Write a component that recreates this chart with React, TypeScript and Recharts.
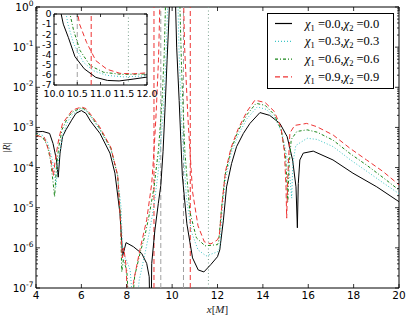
import React from "react";
import { LineChart, Line, XAxis, YAxis, ReferenceLine, ReferenceArea } from "recharts";

const W = 406;
const H = 318;
// main plot frame (px)
const PL = 36;
const PR = 399;
const PT = 7;
const PB = 288;
// inset placement on the page (px)
const IL = 54;
const IR = 147;
const IT = 14;
const IB = 85;
// inset frame in its own svg
const INSET_Y_W = 18;
const INSET_X_H = 17;
const IPAD_T = 8;
const IPAD_R = 14;
const iL = INSET_Y_W;
const iR = INSET_Y_W + (IR - IL);
const iT = IPAD_T;
const iB = IPAD_T + (IB - IT);

const xTicks = [4, 6, 8, 10, 12, 14, 16, 18, 20];
const decades = [-7, -6, -5, -4, -3, -2, -1, 0];
const insetXTicks = [10, 10.5, 11, 11.5, 12];
const insetYTicks = [-7, -6, -5, -4, -3, -2, -1, 0];

// log10 |R| against x[M]
const x00 = [4.0, 4.3, 4.6, 4.75, 4.9, 4.98, 5.06, 5.17, 5.32, 5.57, 5.76, 6.0, 6.2, 6.4, 6.82, 7.26, 7.48, 7.7, 7.82, 7.97, 8.29, 8.66, 8.88, 8.99, 9.03, 9.07, 9.1, 9.24, 9.39, 9.5, 9.6, 9.69, 9.78, 9.85, 9.9, 10.14, 10.2, 10.31, 10.45, 10.65, 10.9, 11.15, 11.4, 11.7, 12.0, 12.1, 12.26, 12.4, 12.62, 12.84, 13.14, 13.43, 13.87, 14.3, 14.75, 15.07, 15.31, 15.46, 15.52, 15.56, 15.63, 15.78, 16.22, 17.09, 17.97, 19.02, 20.0];
const r00 = [-3.11, -3.1, -3.15, -3.4, -3.8, -4.24, -3.64, -3.23, -3.06, -2.82, -2.65, -2.58, -2.65, -2.84, -3.15, -3.64, -4.14, -5.14, -6.2, -5.87, -5.97, -6.14, -6.39, -6.72, -8, -8, -6.39, -5.56, -4.9, -4.45, -3.6, -2.5, -1.3, -0.4, 0.3, 0.3, -1.0, -2.33, -4.2, -5.4, -6.25, -6.55, -6.6, -6.42, -6.22, -6.05, -5.31, -4.48, -3.9, -3.48, -3.15, -2.9, -2.63, -2.7, -2.9, -3.23, -3.81, -4.48, -5.5, -4.4, -3.81, -3.64, -3.59, -3.81, -4.14, -4.48, -4.85];

const x03 = [4.0, 4.3, 4.5, 4.7, 4.82, 4.88, 4.95, 5.05, 5.2, 5.4, 5.6, 6.0, 6.2, 6.4, 6.8, 7.3, 7.6, 7.75, 7.83, 7.95, 8.15, 8.35, 8.55, 8.8, 9.0, 9.2, 9.4, 9.6, 9.72, 9.82, 10.25, 10.3, 10.42, 10.63, 10.85, 11.14, 11.5, 12.0, 12.1, 12.2, 12.35, 12.6, 12.9, 13.3, 13.75, 14.15, 14.55, 14.85, 15.05, 15.2, 15.27, 15.32, 15.45, 15.95, 16.4, 17.1, 17.84, 18.6, 19.3, 20.0];
const r03 = [-3.15, -3.2, -3.35, -3.75, -4.15, -4.48, -4.0, -3.6, -3.15, -2.85, -2.68, -2.53, -2.58, -2.72, -3.05, -3.55, -4.2, -5.0, -6.3, -6.25, -6.55, -8, -6.8, -6.15, -5.6, -4.95, -4.05, -2.7, -1.4, 0.3, 0.3, -1.0, -2.9, -4.75, -5.6, -6.05, -6.2, -6.1, -6.0, -5.1, -4.3, -3.65, -3.2, -2.78, -2.49, -2.55, -2.78, -3.15, -3.7, -4.3, -4.76, -3.9, -3.45, -3.27, -3.3, -3.48, -3.8, -4.1, -4.38, -4.65];

const x06 = [4.0, 4.3, 4.5, 4.65, 4.75, 4.82, 4.9, 5.0, 5.15, 5.4, 5.6, 6.0, 6.2, 6.4, 6.8, 7.3, 7.6, 7.72, 7.78, 7.85, 8.0, 8.15, 8.35, 8.6, 8.8, 9.0, 9.2, 9.4, 9.55, 9.65, 9.72, 10.33, 10.42, 10.56, 10.78, 11.07, 11.45, 12.0, 12.05, 12.18, 12.33, 12.6, 12.9, 13.3, 13.7, 14.1, 14.5, 14.8, 15.0, 15.1, 15.15, 15.25, 15.5, 15.95, 16.4, 17.1, 17.84, 18.6, 19.3, 20.0];
const r06 = [-3.18, -3.25, -3.45, -3.85, -4.35, -4.73, -4.0, -3.5, -3.05, -2.75, -2.62, -2.51, -2.56, -2.7, -3.02, -3.52, -4.2, -5.2, -6.6, -6.3, -6.55, -8, -6.7, -6.1, -5.7, -5.15, -4.5, -3.55, -2.4, -1.2, 0.3, 0.3, -1.6, -3.6, -5.1, -5.75, -5.95, -5.92, -5.85, -5.0, -4.2, -3.55, -3.1, -2.68, -2.4, -2.45, -2.68, -3.05, -3.7, -4.85, -4.0, -3.3, -3.1, -3.06, -3.12, -3.32, -3.65, -3.95, -4.25, -4.56];

const x09 = [4.0, 4.37, 4.6, 4.73, 4.77, 4.85, 5.0, 5.17, 5.6, 6.0, 6.2, 6.4, 6.8, 7.3, 7.6, 7.72, 7.8, 7.87, 7.97, 8.08, 8.3, 8.58, 8.88, 9.1, 9.2, 9.3, 9.4, 9.47, 10.5, 10.55, 10.7, 10.9, 11.14, 11.42, 11.71, 12.0, 12.08, 12.2, 12.35, 12.6, 12.9, 13.3, 13.65, 14.1, 14.5, 14.8, 14.95, 15.02, 15.05, 15.1, 15.19, 15.4, 15.93, 16.37, 17.1, 17.84, 18.57, 19.3, 20.0];
const r09 = [-3.2, -3.25, -3.65, -4.06, -4.2, -3.8, -3.3, -2.9, -2.57, -2.49, -2.53, -2.67, -2.98, -3.5, -4.2, -5.3, -6.25, -6.0, -6.45, -8, -6.84, -6.05, -5.3, -4.4, -3.6, -2.6, -1.3, 0.3, 0.3, -1.0, -2.8, -4.6, -5.45, -5.85, -5.9, -5.8, -5.7, -4.9, -4.1, -3.5, -3.05, -2.6, -2.32, -2.38, -2.6, -3.0, -3.6, -4.5, -5.26, -4.2, -3.14, -2.95, -2.9, -2.98, -3.19, -3.52, -3.81, -4.1, -4.43];

const series = [
  { key: "s00", chi: "0.0", xs: x00, ys: r00, color: "#000000", dash: undefined },
  { key: "s03", chi: "0.3", xs: x03, ys: r03, color: "#3cc6c6", dash: "1 2" },
  { key: "s06", chi: "0.6", xs: x06, ys: r06, color: "#1a861a", dash: "3 2 1 2" },
  { key: "s09", chi: "0.9", xs: x09, ys: r09, color: "#ee3333", dash: "5 3" },
];

// vertical markers
const verticals = [
  { x: 9.2, color: "#ee3333", dash: "5 3" },
  { x: 9.5, color: "#a0a0a0", dash: "5 3" },
  { x: 10.5, color: "#a0a0a0", dash: "5 3" },
  { x: 10.8, color: "#ee3333", dash: "5 3" },
  { x: 11.6, color: "#7a9f8c", dash: "1 2.5" },
];

const points = (xs: number[], ys: number[]) =>
  xs.map((x, i) => ({ x, r: Math.pow(10, ys[i]), lr: ys[i] }));

const yMinor: number[] = [];
decades.slice(0, -1).forEach((d) => {
  for (let k = 2; k <= 9; k++) yMinor.push(k * Math.pow(10, d));
});
const yTicks = [...decades.map((d) => Math.pow(10, d)), ...yMinor];

const tickFont = { fontFamily: "DejaVu Sans", fill: "#000" };

const LogTick = (props: any) => {
  const y = props.y;
  const v = props.payload.value;
  const e = Math.round(Math.log10(v));
  const major = Math.abs(Math.log10(v) - e) < 1e-6;
  const len = major ? 4 : 2;
  return (
    <g>
      <line x1={PL} x2={PL + len} y1={y} y2={y} stroke="#000" strokeWidth={0.8} />
      <line x1={PR - len} x2={PR} y1={y} y2={y} stroke="#000" strokeWidth={0.8} />
      {major && (
        <text x={PL - 2.5} y={y + 4} textAnchor="end" fontSize={10.5} {...tickFont}>
          10<tspan dy={-5} fontSize={7.5}>{String(e)}</tspan>
        </text>
      )}
    </g>
  );
};

const XTick = (props: any) => {
  const x = props.x;
  return (
    <g>
      <line x1={x} x2={x} y1={PB} y2={PB - 4} stroke="#000" strokeWidth={0.8} />
      <line x1={x} x2={x} y1={PT} y2={PT + 4} stroke="#000" strokeWidth={0.8} />
      <text x={x} y={PB + 11} textAnchor="middle" fontSize={10.5} {...tickFont}>
        {props.payload.value}
      </text>
    </g>
  );
};

const InsetXTick = (props: any) => {
  const x = props.x;
  return (
    <g>
      <line x1={x} x2={x} y1={iB} y2={iB - 3} stroke="#000" strokeWidth={0.8} />
      <line x1={x} x2={x} y1={iT} y2={iT + 3} stroke="#000" strokeWidth={0.8} />
      <text x={x} y={iB + 12} textAnchor="middle" fontSize={9.5} {...tickFont}>
        {Number(props.payload.value).toFixed(1)}
      </text>
    </g>
  );
};

const InsetYTick = (props: any) => {
  const y = props.y;
  return (
    <g>
      <line x1={iL} x2={iL + 3} y1={y} y2={y} stroke="#000" strokeWidth={0.8} />
      <line x1={iR - 3} x2={iR} y1={y} y2={y} stroke="#000" strokeWidth={0.8} />
      <text x={iL - 2.5} y={y + 3.3} textAnchor="end" fontSize={9.5} {...tickFont}>
        {String(props.payload.value)}
      </text>
    </g>
  );
};

const XLabel = () => (
  <text x={(PL + PR) / 2} y={313} textAnchor="middle" fontSize={11} fontFamily="Liberation Serif" fill="#222">
    <tspan fontStyle="italic">x</tspan>[<tspan fontStyle="italic">M</tspan>]
  </text>
);

const YLabel = () => (
  <text
    x={10}
    y={(PT + PB) / 2}
    transform={`rotate(-90 10 ${(PT + PB) / 2})`}
    textAnchor="middle"
    fontSize={10}
    fontFamily="Liberation Serif"
    fill="#222"
  >
    |<tspan fontStyle="italic">R</tspan>|
  </text>
);

function Legend() {
  return (
    <svg width={128} height={77} style={{ position: "absolute", left: 267, top: 13 }}>
      <rect x={0.5} y={0.5} width={126} height={75} fill="#fff" stroke="#000" strokeWidth={1} />
      {series.map((s, i) => {
        const y = 10.5 + i * 17.8;
        return (
          <g key={s.key}>
            <line x1={8} x2={25} y1={y} y2={y} stroke={s.color} strokeWidth={1.2} strokeDasharray={s.dash} />
            <text x={38} y={y + 4} fontSize={12.5} fontFamily="Liberation Serif" fill="#000">
              <tspan fontStyle="italic">χ</tspan>
              <tspan dy={3} fontSize={8.5}>1</tspan>
              <tspan dy={-3}>{` =${s.chi},`}</tspan>
              <tspan fontStyle="italic">χ</tspan>
              <tspan dy={3} fontSize={8.5}>2</tspan>
              <tspan dy={-3}>{` =${s.chi}`}</tspan>
            </text>
          </g>
        );
      })}
    </svg>
  );
}

function Inset() {
  const w = iR + IPAD_R;
  const h = iB + INSET_X_H;
  return (
    <div style={{ position: "absolute", left: IL - INSET_Y_W, top: IT - IPAD_T }}>
      <LineChart width={w} height={h} margin={{ top: IPAD_T, right: IPAD_R, left: 0, bottom: 0 }}>
        <XAxis
          type="number"
          dataKey="x"
          domain={[10, 12]}
          ticks={insetXTicks}
          interval={0}
          allowDataOverflow
          axisLine={false}
          tickLine={false}
          tick={<InsetXTick />}
          height={INSET_X_H}
        />
        <YAxis
          type="number"
          domain={[-7, 0]}
          ticks={insetYTicks}
          interval={0}
          allowDataOverflow
          axisLine={false}
          tickLine={false}
          tick={<InsetYTick />}
          width={INSET_Y_W}
        />
        <ReferenceArea x1={10} x2={12} y1={-7} y2={0} fill="#fff" fillOpacity={1} stroke="#000" strokeWidth={1} />
        {verticals
          .filter((v) => v.x > 10 && v.x < 12)
          .map((v) => (
            <ReferenceLine key={v.x} x={v.x} stroke={v.color} strokeDasharray={v.dash} strokeWidth={1} />
          ))}
        {series.map((s) => (
          <Line
            key={s.key}
            data={points(s.xs, s.ys)}
            dataKey="lr"
            type="linear"
            stroke={s.color}
            strokeWidth={1}
            strokeDasharray={s.dash}
            dot={false}
            activeDot={false}
            isAnimationActive={false}
          />
        ))}
      </LineChart>
    </div>
  );
}

export default function App() {
  return (
    <div style={{ position: "absolute", left: 0, top: 0, width: W, height: H, background: "#fff" }}>
      <LineChart width={W} height={H} margin={{ top: PT, right: W - PR, left: 0, bottom: 0 }}>
        <XAxis
          type="number"
          dataKey="x"
          domain={[4, 20]}
          ticks={xTicks}
          interval={0}
          allowDataOverflow
          axisLine={false}
          tickLine={false}
          tick={<XTick />}
          height={H - PB}
          label={<XLabel />}
        />
        <YAxis
          scale="log"
          domain={[1e-7, 1]}
          ticks={yTicks}
          interval={0}
          allowDataOverflow
          axisLine={false}
          tickLine={false}
          tick={<LogTick />}
          width={PL}
          label={<YLabel />}
        />
        <ReferenceArea x1={4} x2={20} y1={1e-7} y2={1} fill="none" stroke="#000" strokeWidth={1} />
        {verticals.map((v) => (
          <ReferenceLine key={v.x} x={v.x} stroke={v.color} strokeDasharray={v.dash} strokeWidth={1} />
        ))}
        {series.map((s) => (
          <Line
            key={s.key}
            data={points(s.xs, s.ys)}
            dataKey="r"
            type="linear"
            stroke={s.color}
            strokeWidth={1}
            strokeDasharray={s.dash}
            dot={false}
            activeDot={false}
            isAnimationActive={false}
          />
        ))}
      </LineChart>
      <Inset />
      <Legend />
    </div>
  );
}
